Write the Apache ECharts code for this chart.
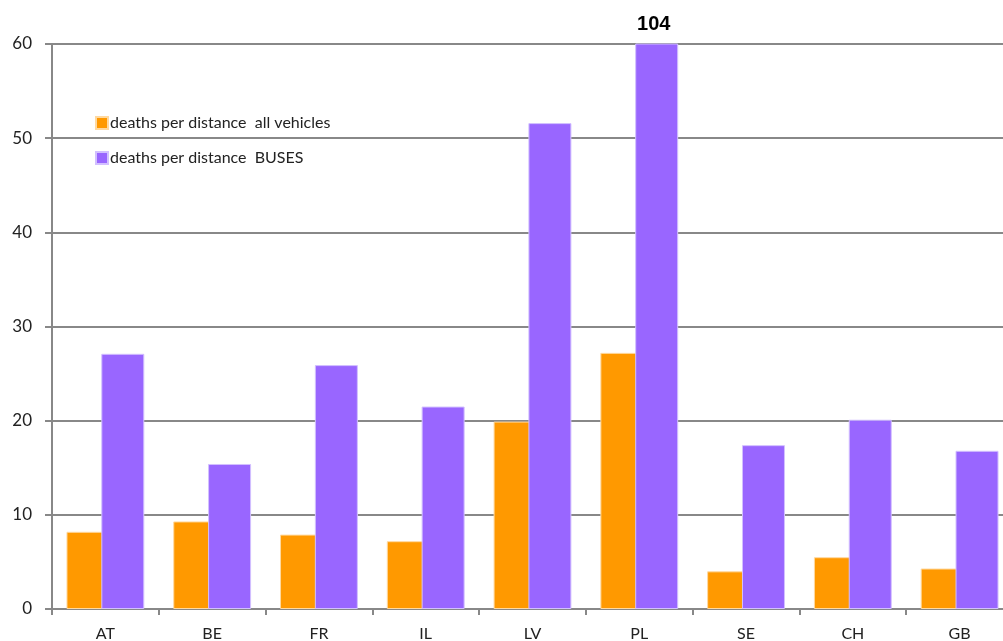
<!DOCTYPE html>
<html><head><meta charset="utf-8">
<script src="https://cdn.jsdelivr.net/npm/echarts@6/dist/echarts.min.js"></script>
<style>html,body{margin:0;padding:0;background:#fff}#c{width:1003px;height:641px}</style>
</head><body><div id="c"></div>
<script>
const categories = ['AT','BE','FR','IL','LV','PL','SE','CH','GB'];
const allVehicles = [8.2, 9.3, 7.9, 7.2, 19.9, 27.2, 4.0, 5.5, 4.3];
const buses = [27.1, 15.4, 25.9, 21.5, 51.6, 104, 17.4, 20.1, 16.8];
const seriesNames = ['deaths per distance  all vehicles', 'deaths per distance  BUSES'];
const yMax = 60;

const chart = echarts.init(document.getElementById('c'), null, {renderer:'canvas'});
const font = 'Lato, "Open Sans", sans-serif';
chart.setOption({
  animation:false,
  backgroundColor:'#fff',
  grid:{left:52, width:961, top:44, bottom:32, outerBoundsMode:'none', containLabel:false},
  legend:{
    orient:'vertical', left:95, top:115, padding:0, itemGap:19, itemWidth:12, itemHeight:12,
    icon:'rect',
    textStyle:{fontFamily:font, fontSize:16, color:'#222', padding:[0,0,0,-3]},
    data:seriesNames
  },
  xAxis:{
    type:'category', data:categories,
    axisLine:{lineStyle:{color:'#888', width:2}},
    axisTick:{show:true, length:6, lineStyle:{color:'#888', width:2}, alignWithLabel:false},
    axisLabel:{fontFamily:font, fontSize:16, color:'#222', margin:17}
  },
  yAxis:{
    type:'value', min:0, max:yMax, interval:10,
    axisLine:{show:true, lineStyle:{color:'#888', width:2}},
    axisTick:{show:true, length:7, lineStyle:{color:'#888', width:2}},
    axisLabel:{fontFamily:font, fontSize:17, color:'#222', margin:20},
    splitLine:{lineStyle:{color:'#888', width:2}}
  },
  series:[
    {name:seriesNames[0], type:'bar', data:allVehicles, barWidth:43, barGap:'-19%',
     itemStyle:{color:'#FF9900', borderColor:'#FFD9A0', borderWidth:1}},
    {name:seriesNames[1], type:'bar', data:buses, barWidth:43, clip:true,
     itemStyle:{color:'#9966FF', borderColor:'#D2C0FF', borderWidth:1},
     markPoint:{
       symbol:'rect', symbolSize:0,
       data:[{coord:['PL', yMax], value:buses[5]}],
       label:{show:true, position:'top', distance:10, offset:[-3,0], formatter:String(buses[5]), fontFamily:'"Liberation Sans", Arial, sans-serif', fontWeight:'bold', fontSize:20, color:'#000'}
     }}
  ]
});
</script></body></html>
